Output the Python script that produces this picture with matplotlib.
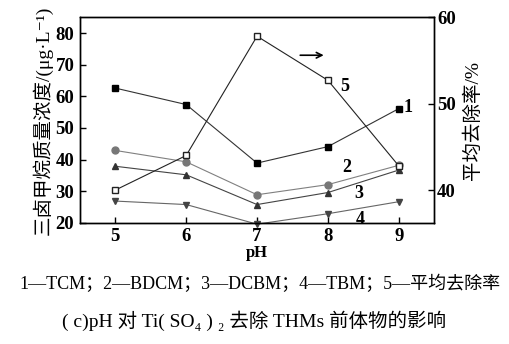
import matplotlib.pyplot as plt

plt.rcParams['font.family'] = ['Liberation Serif', 'Noto Sans CJK SC', 'DejaVu Serif']

# data
ph = [5, 6, 7, 8, 9]
tcm = [62.6, 57.4, 38.9, 44.1, 56.1]
bdcm = [42.9, 39.3, 28.9, 32.1, 38.2]
dcbm = [37.9, 35.2, 25.8, 29.6, 36.7]
tbm = [26.9, 25.8, 19.6, 22.9, 26.7]
removal = [40.0, 44.0, 57.8, 52.7, 42.8]

fig = plt.figure(figsize=(5.09, 3.44), dpi=100)
ax = fig.add_axes([0.157, 0.352, 0.696, 0.598])

ax.plot(ph, tcm, color='#333333', lw=0.8, marker='s', ms=4.5, mfc='black', mec='black', clip_on=False)
ax.plot(ph, bdcm, color='#808080', lw=0.8, marker='o', ms=5, mfc='#777777', mec='#777777', clip_on=False)
ax.plot(ph, dcbm, color='#444444', lw=0.8, marker='^', ms=5, mfc='#333333', mec='#333333', clip_on=False)
ax.plot(ph, tbm, color='#666666', lw=0.8, marker='v', ms=5, mfc='#444444', mec='#444444', clip_on=False)

ax.set_xlim(4.5, 9.5)
ax.set_ylim(20, 85)
ax.set_xticks(ph)
ax.set_yticks([20, 30, 40, 50, 60, 70, 80])
ax.tick_params(direction='in', length=4, width=1, labelsize=13.5, pad=4)
ax.tick_params(axis='x', top=False)
for lab in ax.get_xticklabels() + ax.get_yticklabels():
    lab.set_fontweight('bold')
ax.set_xlabel('pH', fontsize=12, fontweight='bold', labelpad=0)
ax.set_ylabel('三卤甲烷质量浓度/(μg·L⁻¹)', fontsize=14, labelpad=2)

ax2 = ax.twinx()
ax2.plot(ph, removal, color='#222222', lw=0.8, marker='s', ms=5, mfc='white', mec='#222222', clip_on=False)
ax2.set_ylim(36.2, 60)
ax2.set_yticks([40, 50, 60])
ax2.tick_params(direction='in', length=4, width=1, labelsize=13.5, pad=2)
for lab in ax2.get_yticklabels():
    lab.set_fontweight('bold')
ax2.set_ylabel('平均去除率/%', fontsize=14, rotation=90, labelpad=6)

for sp in list(ax.spines.values()) + list(ax2.spines.values()):
    sp.set_linewidth(1)

# curve numbers
num_style = dict(fontsize=13, fontweight='bold', va='center', ha='center')
ax.text(9.13, 56.4, '1', **num_style)
ax.text(8.26, 37.5, '2', **num_style)
ax.text(8.44, 29.3, '3', **num_style)
ax.text(8.45, 21.1, '4', **num_style)
ax2.text(8.24, 52.0, '5', **num_style)
ax2.annotate('', xy=(7.98, 55.6), xytext=(7.57, 55.6),
             arrowprops=dict(arrowstyle='->', color='black', lw=1.2))

fig.text(0.51, 1 - 284 / 344, '1—TCM；2—BDCM；3—DCBM；4—TBM；5—平均去除率',
         ha='center', va='center', fontsize=13)
fig.text(0.5, 1 - 321 / 344, '( c)pH 对 Ti( SO₄ ) ₂ 去除 THMs 前体物的影响',
         ha='center', va='center', fontsize=14)

fig.savefig('out.png', dpi=100)
